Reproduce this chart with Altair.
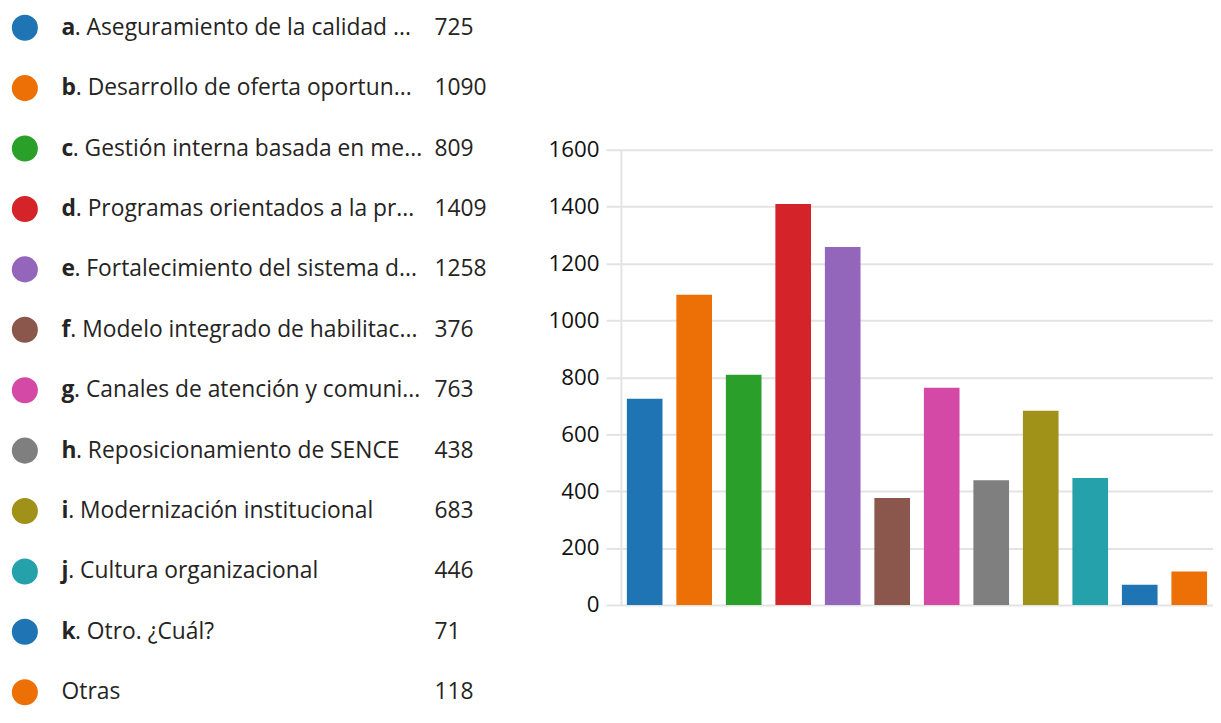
import altair as alt
import pandas as pd

keys = ["a", "b", "c", "d", "e", "f", "g", "h", "i", "j", "k", "otras"]
letters = ["a", "b", "c", "d", "e", "f", "g", "h", "i", "j", "k", ""]
labels = [
    ". Aseguramiento de la calidad ...",
    ". Desarrollo de oferta oportun...",
    ". Gestión interna basada en me...",
    ". Programas orientados a la pr...",
    ". Fortalecimiento del sistema d...",
    ". Modelo integrado de habilitac...",
    ". Canales de atención y comuni...",
    ". Reposicionamiento de SENCE",
    ". Modernización institucional",
    ". Cultura organizacional",
    ". Otro. ¿Cuál?",
    "Otras",
]
values = [725, 1090, 809, 1409, 1258, 376, 763, 438, 683, 446, 71, 118]
colors = ["#1f74b4", "#ec7005", "#2a9f2a", "#d5232a", "#9466bb", "#8b564c",
          "#d448a6", "#7f7f7f", "#a09219", "#25a1ab", "#1f74b4", "#ec7005"]
y_ticks = [0, 200, 400, 600, 800, 1000, 1200, 1400, 1600]

FONT = "Open Sans"
TXT = "#252423"
FS = 23
# approximate advance widths (px) of the bold letters at FS
bold_w = {"a": 13.2, "b": 14.3, "c": 11.2, "d": 14.3, "e": 13.0, "f": 8.8,
          "g": 12.6, "h": 14.5, "i": 6.7, "j": 6.7, "k": 13.5, "": 0}
TEXT_X = 54

df = pd.DataFrame({"key": keys, "letter": letters, "rest": labels, "value": values})
df["tx"] = [TEXT_X + bold_w[l] for l in letters]

color_scale = alt.Scale(domain=keys, range=colors)
ly = alt.Y("key:N", sort=keys, axis=None,
           scale=alt.Scale(type="point", range=[17, 687], padding=0))

base = alt.Chart(df)
dots = base.mark_circle(size=690, opacity=1).encode(
    x=alt.value(17), y=ly,
    color=alt.Color("key:N", scale=color_scale, legend=None))
lets = base.mark_text(align="left", baseline="middle", fontWeight="bold",
                      fontSize=FS, font=FONT, color=TXT).encode(
    x=alt.value(TEXT_X), y=ly, text="letter:N")
rest = base.mark_text(align="left", baseline="middle",
                      fontSize=FS, font=FONT, color=TXT).encode(
    x=alt.X("tx:Q", scale=None), y=ly, text="rest:N")
vals = base.mark_text(align="left", baseline="middle",
                      fontSize=FS, font=FONT, color=TXT).encode(
    x=alt.value(430), y=ly, text="value:Q")
legend = alt.layer(dots, lets, rest, vals).properties(width=544, height=701)

bars = alt.Chart(df).mark_bar().encode(
    x=alt.X("key:N", sort=keys, axis=None,
            scale=alt.Scale(paddingInner=0.28, paddingOuter=0.12)),
    y=alt.Y("value:Q",
            scale=alt.Scale(domain=[0, 1600], range=[599, 140], nice=False),
            axis=alt.Axis(values=y_ticks, title=None, grid=True, format="d",
                          gridColor="#e3e3e3", gridWidth=2,
                          tickColor="#e3e3e3", tickWidth=2, tickSize=15,
                          domainColor="#e3e3e3", domainWidth=2,
                          labelFont=FONT, labelFontSize=22.5, labelColor="#111111",
                          labelPadding=7)),
    color=alt.Color("key:N", scale=color_scale, legend=None),
).properties(width=597, height=610)

chart = alt.hconcat(legend, bars, spacing=0).properties(
    padding=0
).configure_view(stroke=None)

chart.save("out.html", embed_options={"renderer": "svg", "actions": False})
